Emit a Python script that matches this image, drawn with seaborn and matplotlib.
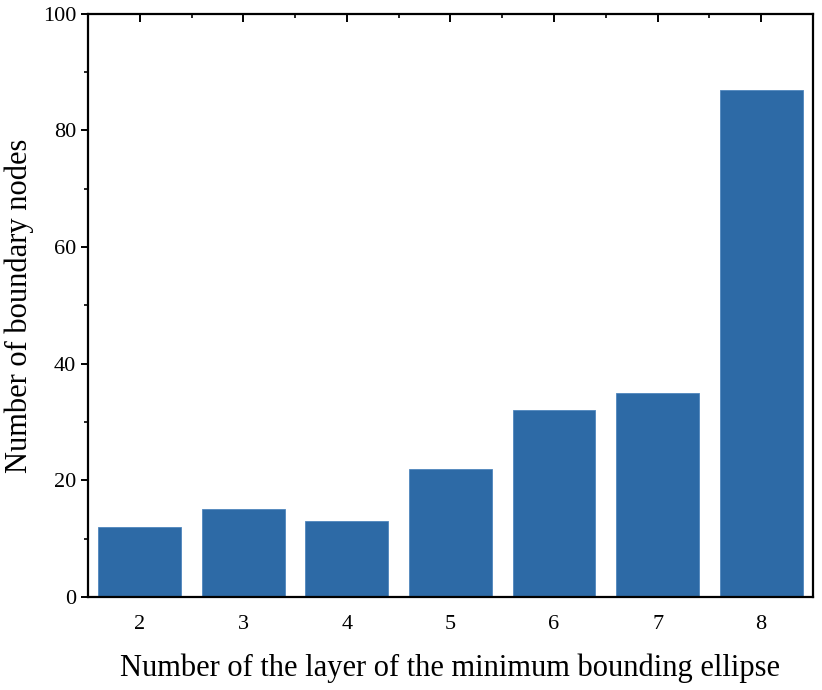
import matplotlib
matplotlib.use("Agg")
import matplotlib.pyplot as plt
import seaborn as sns
import pandas as pd
from matplotlib.ticker import MultipleLocator, FixedLocator

# data
layers = ["2", "3", "4", "5", "6", "7", "8"]
nodes = [12, 15, 13, 22, 32, 35, 87]

df = pd.DataFrame({"layer": layers, "nodes": nodes})

sns.set_style("white")
plt.rcParams["font.family"] = ["Liberation Serif", "DejaVu Serif"]
plt.rcParams["text.color"] = "black"
plt.rcParams["axes.labelcolor"] = "black"
plt.rcParams["xtick.color"] = "black"
plt.rcParams["ytick.color"] = "black"

fig = plt.figure(figsize=(8.22, 6.9), dpi=100)
ax = fig.add_axes([0.107, 0.135, 0.882, 0.845])

sns.barplot(data=df, x="layer", y="nodes", color="#2d6aa6", width=0.8,
            saturation=1, edgecolor="#4f86bd", linewidth=0.6, ax=ax)

ax.set_xlim(-0.5, 6.5)
ax.set_ylim(0, 100)
ax.yaxis.set_major_locator(MultipleLocator(20))
ax.yaxis.set_minor_locator(MultipleLocator(10))
# minor ticks only between bars (top axis)
ax.xaxis.set_minor_locator(FixedLocator([i + 0.5 for i in range(-1, 7)]))

ax.set_xlabel("Number of the layer of the minimum bounding ellipse", fontsize=22, labelpad=14)
ax.set_ylabel("Number of boundary nodes", fontsize=22, labelpad=6)

for s in ax.spines.values():
    s.set_visible(True)
    s.set_linewidth(1.6)
    s.set_color("black")

ax.tick_params(axis="y", which="major", direction="out", length=5, width=1.4,
               labelsize=16, left=True, right=False)
ax.tick_params(axis="y", which="minor", direction="out", length=3, width=1.2,
               left=True, right=False)
ax.tick_params(axis="x", which="major", direction="in", length=6, width=1.4,
               labelsize=16, bottom=True, top=True, pad=13)
ax.tick_params(axis="x", which="minor", direction="in", length=3, width=1.2,
               bottom=False, top=True)

fig.savefig("out.png", dpi=100)
